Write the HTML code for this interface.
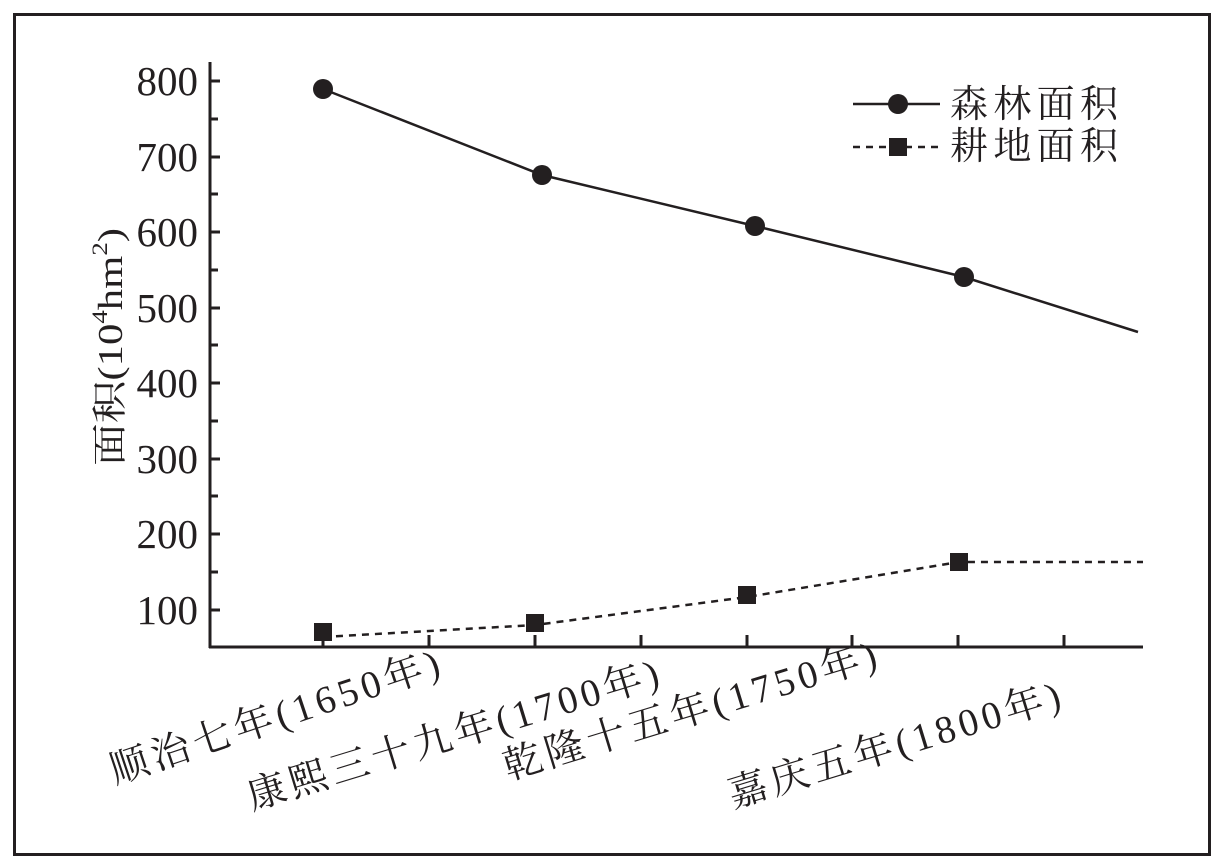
<!DOCTYPE html>
<html><head><meta charset="utf-8"><style>body{margin:0;background:#fff}svg{display:block}</style></head><body>
<svg width="1223" height="867" viewBox="0 0 1223 867" xmlns="http://www.w3.org/2000/svg" font-family="'Liberation Serif','Noto Serif CJK SC',serif" fill="#231f20">
<rect x="14.5" y="14.5" width="1195" height="840" fill="none" stroke="#231f20" stroke-width="3"/>
<g stroke="#231f20" stroke-width="3" fill="none">
<line x1="210" y1="62" x2="210" y2="648"/>
<line x1="209" y1="647" x2="1143" y2="647"/>
<path d="M210 81h10M210 119h8M210 157h10M210 194h8M210 232h10M210 270h8M210 308h10M210 345h8M210 383h10M210 421h8M210 459h10M210 496h8M210 534h10M210 572h8M210 610h10"/>
<path d="M323 647v-12M429 647v-12M535 647v-12M641 647v-12M747 647v-12M852 647v-12M958 647v-12M1064 647v-12"/>
<polyline points="323,89 542,175 755,226 964,277 1138,332" stroke-width="2.5"/>
<polyline points="323,637 535,625 747,597 959,562 1143,562" stroke-width="2.5" stroke-dasharray="7,6"/>
<line x1="853" y1="104" x2="940" y2="104" stroke-width="2.5"/>
<line x1="853" y1="147" x2="940" y2="147" stroke-width="2.5" stroke-dasharray="7,6"/>
</g>
<g>
<circle cx="323" cy="89" r="10"/><circle cx="542" cy="175" r="10"/><circle cx="755" cy="226" r="10"/><circle cx="964" cy="277" r="10"/><circle cx="898" cy="104" r="10"/>
<rect x="314" y="623" width="18" height="18"/><rect x="526" y="614" width="18" height="18"/><rect x="738" y="586" width="18" height="18"/><rect x="950" y="553" width="18" height="18"/><rect x="889" y="138" width="18" height="18"/>
</g>
<g font-size="41" text-anchor="end">
<text x="198" y="95">800</text><text x="198" y="171">700</text><text x="198" y="246">600</text><text x="198" y="322">500</text><text x="198" y="397">400</text><text x="198" y="473">300</text><text x="198" y="548">200</text><text x="198" y="624">100</text>
</g>
<text font-size="38" x="950" y="117" textLength="168" lengthAdjust="spacing">森林面积</text>
<text font-size="38" x="950" y="159" textLength="168" lengthAdjust="spacing">耕地面积</text>
<text font-size="35" transform="translate(122,466) rotate(-90)" textLength="238" lengthAdjust="spacingAndGlyphs">面积(10<tspan font-size="22" dy="-15">4</tspan><tspan dy="15">hm</tspan><tspan font-size="22" dy="-15">2</tspan><tspan dy="15">)</tspan></text>
<g font-size="39">
<text transform="translate(115,784) rotate(-18.5)" textLength="345" lengthAdjust="spacing">顺治七年(1650年)</text>
<text transform="translate(252,810) rotate(-17)" textLength="428" lengthAdjust="spacing">康熙三十九年(1700年)</text>
<text transform="translate(508,780) rotate(-17)" textLength="388" lengthAdjust="spacing">乾隆十五年(1750年)</text>
<text transform="translate(733,808) rotate(-17)" textLength="345" lengthAdjust="spacing">嘉庆五年(1800年)</text>
</g>
</svg>
</body></html>
